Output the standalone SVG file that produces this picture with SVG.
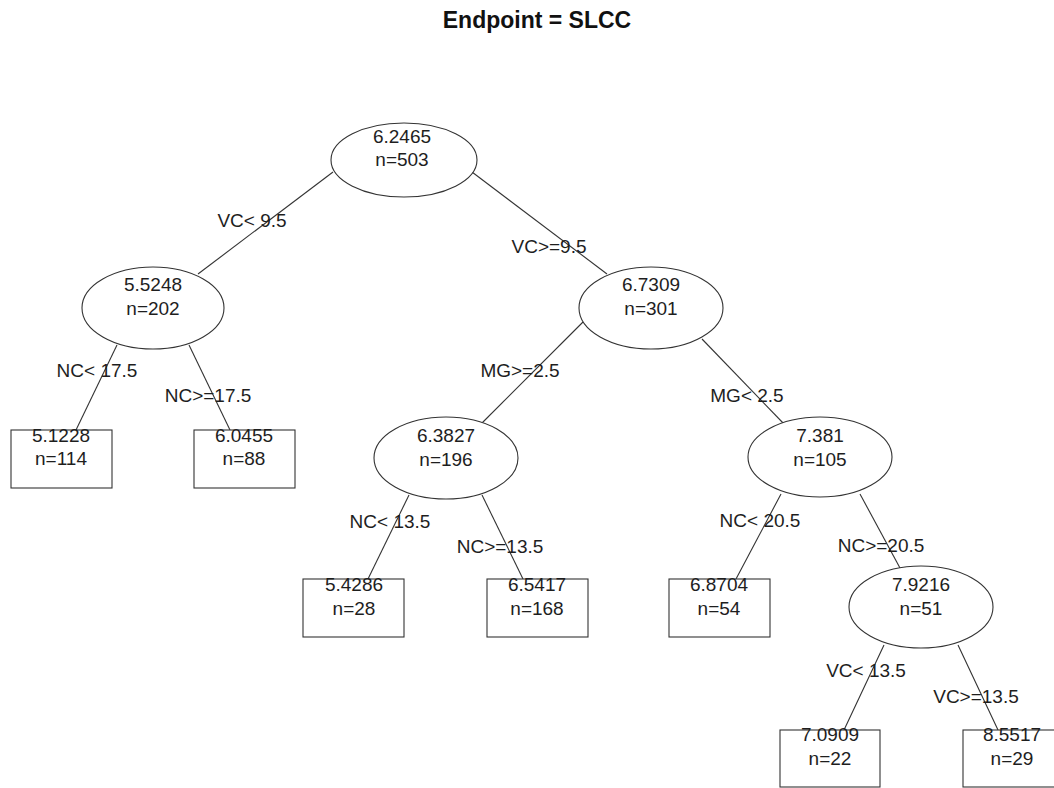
<svg xmlns="http://www.w3.org/2000/svg" width="1054" height="788" viewBox="0 0 1054 788">
<style>
text{font-family:"Liberation Sans",Arial,sans-serif;font-size:19px;fill:#1e1e1e;text-anchor:middle}
.title{font-size:23px;font-weight:bold;fill:#111}
.node ellipse,.node rect{fill:#fff;stroke:#333;stroke-width:1.1}
#connectors line{stroke:#333;stroke-width:1.1}
</style>
<rect width="1054" height="788" fill="#fff"/>
<text class="title" x="537" y="28">Endpoint = SLCC</text>
<g id="connectors">
<line x1="333" y1="172" x2="198" y2="274"/>
<line x1="472" y1="172" x2="607" y2="274"/>
<line x1="117" y1="345" x2="76" y2="430"/>
<line x1="189" y1="345" x2="230" y2="430"/>
<line x1="583" y1="322" x2="482" y2="423"/>
<line x1="702" y1="339" x2="785" y2="425"/>
<line x1="409" y1="495" x2="368" y2="579"/>
<line x1="482" y1="495" x2="523" y2="579"/>
<line x1="781" y1="494" x2="736" y2="579"/>
<line x1="860" y1="494" x2="900" y2="568"/>
<line x1="884" y1="645" x2="844" y2="730"/>
<line x1="958" y1="645" x2="998" y2="730"/>
</g>
<g id="edge-labels">
<text x="252" y="227">VC&lt; 9.5</text>
<text x="549" y="253">VC&gt;=9.5</text>
<text x="97" y="377">NC&lt; 17.5</text>
<text x="208" y="402">NC&gt;=17.5</text>
<text x="520" y="377">MG&gt;=2.5</text>
<text x="747" y="402">MG&lt; 2.5</text>
<text x="390" y="528">NC&lt; 13.5</text>
<text x="500" y="553">NC&gt;=13.5</text>
<text x="760" y="527">NC&lt; 20.5</text>
<text x="881" y="552">NC&gt;=20.5</text>
<text x="866" y="677">VC&lt; 13.5</text>
<text x="976" y="703">VC&gt;=13.5</text>
</g>
<g id="n1" class="node"><ellipse cx="404" cy="160" rx="73" ry="37"/><text x="402" y="143">6.2465</text><text x="402" y="166">n=503</text></g>
<g id="n2" class="node"><ellipse cx="153" cy="308" rx="71" ry="41"/><text x="153" y="291">5.5248</text><text x="153" y="315">n=202</text></g>
<g id="n3" class="node"><ellipse cx="651" cy="308" rx="72" ry="41"/><text x="651" y="291">6.7309</text><text x="651" y="315">n=301</text></g>
<g id="n4" class="node"><rect x="11" y="430" width="101" height="58"/><text x="61" y="442">5.1228</text><text x="61" y="465">n=114</text></g>
<g id="n5" class="node"><rect x="194" y="430" width="101" height="58"/><text x="244" y="442">6.0455</text><text x="244" y="465">n=88</text></g>
<g id="n6" class="node"><ellipse cx="446" cy="458" rx="72" ry="41"/><text x="446" y="442">6.3827</text><text x="446" y="466">n=196</text></g>
<g id="n7" class="node"><ellipse cx="820" cy="457" rx="72" ry="40"/><text x="820" y="442">7.381</text><text x="820" y="466">n=105</text></g>
<g id="n8" class="node"><rect x="303" y="579" width="101" height="58"/><text x="354" y="591">5.4286</text><text x="354" y="615">n=28</text></g>
<g id="n9" class="node"><rect x="487" y="579" width="101" height="58"/><text x="537" y="591">6.5417</text><text x="537" y="615">n=168</text></g>
<g id="n10" class="node"><rect x="669" y="579" width="101" height="58"/><text x="719" y="591">6.8704</text><text x="719" y="615">n=54</text></g>
<g id="n11" class="node"><ellipse cx="921" cy="607" rx="72" ry="41"/><text x="921" y="591">7.9216</text><text x="921" y="615">n=51</text></g>
<g id="n12" class="node"><rect x="780" y="730" width="100" height="57"/><text x="830" y="741">7.0909</text><text x="830" y="765">n=22</text></g>
<g id="n13" class="node"><rect x="963" y="730" width="100" height="57"/><text x="1012" y="741">8.5517</text><text x="1012" y="765">n=29</text></g>
</svg>
